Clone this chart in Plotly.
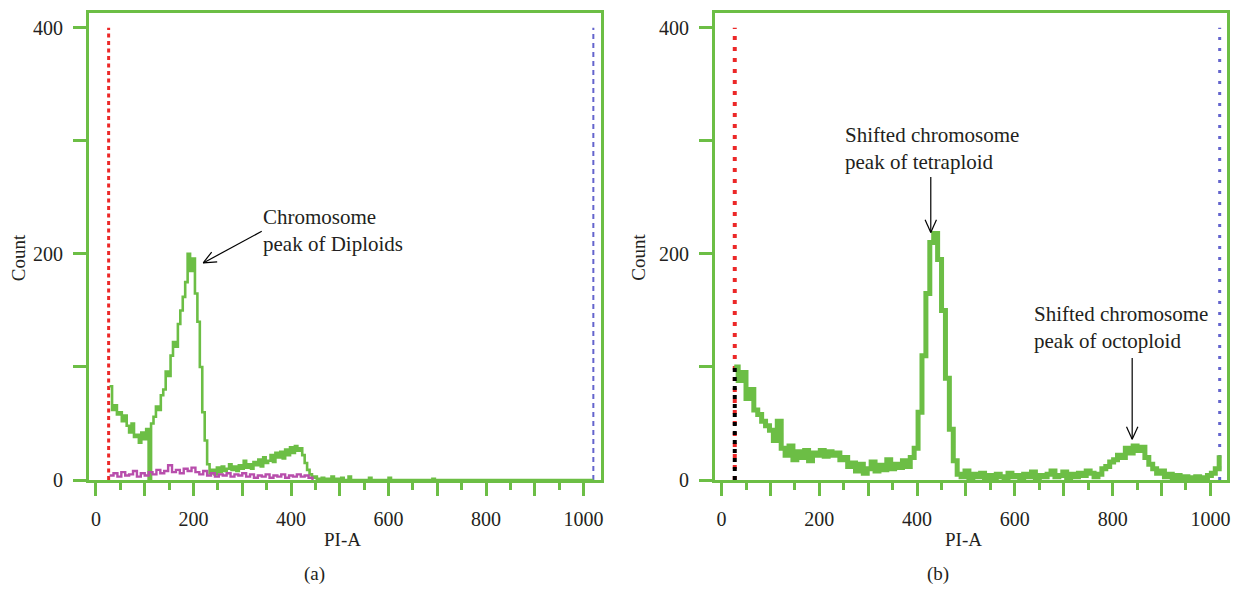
import plotly.graph_objects as go
import math

W, H = 1237, 599

# ---------------- data ----------------
# Panel (a): diploid histogram (green), bins every 5 channels starting at 28
a_green_start, a_green_step = 28, 5
a_green_counts = [83, 62, 66, 58, 60, 52, 57, 48, 42, 50,
                  38, 40, 33, 42, 36, 45, 0, 50, 56, 65,
                  62, 75, 80, 96, 92, 110, 122, 118, 138, 150,
                  162, 175, 200, 185, 196, 165, 140, 100, 60, 35,
                  14, 6, 9, 5, 11, 7, 12, 8, 10, 14,
                  9, 12, 8, 13, 10, 17, 11, 14, 10, 16,
                  13, 18, 12, 20, 15, 17, 22, 16, 24, 20,
                  25, 19, 27, 22, 29, 24, 30, 26, 28, 22,
                  15, 9, 5, 2, 3, 1, 0, 2, 0, 1,
                  0, 3, 0, 1, 0, 2, 0, 0, 3, 0]
a_green_tail_x = [560, 565, 600, 605, 690, 695, 1020]
a_green_tail_y = [2, 0, 2, 0, 1, 0, 0]

# Panel (a): second population (magenta), bins every 8 channels
a_mag_start, a_mag_step = 28, 8
a_mag_counts = [4, 6, 3, 7, 4, 5, 8, 3, 6, 4,
                7, 5, 9, 6, 8, 13, 7, 9, 6, 10,
                8, 11, 7, 5, 8, 4, 6, 3, 5, 4,
                6, 3, 5, 4, 6, 3, 5, 2, 4, 3,
                5, 2, 4, 3, 5, 2, 4, 3, 5, 3,
                4, 2, 0]

# Panel (b): tetraploid histogram (green), bins every 8 channels starting at 26
b_green_start, b_green_step = 26, 8
b_green_counts = [100, 88, 95, 72, 80, 62, 58, 52, 48, 44,
                  35, 52, 28, 22, 30, 18, 25, 20, 26, 17,
                  24, 22, 26, 21, 25, 22, 24, 18, 20, 12,
                  15, 8, 14, 6, 10, 16, 8, 13, 9, 18,
                  10, 14, 11, 17, 12, 20, 28, 60, 110, 165,
                  210, 218, 195, 150, 90, 45, 17, 5, 3, 8,
                  2, 5, 3, 6, 2, 4, 1, 5, 3, 2,
                  6, 3, 4, 2, 5, 3, 7, 2, 4, 3,
                  5, 8, 3, 4, 7, 2, 5, 3, 6, 4,
                  8, 6, 3, 5, 10, 12, 16, 18, 22, 20,
                  28, 24, 30, 26, 29, 20, 14, 10, 6, 8,
                  3, 5, 2, 4, 1, 3, 2, 1, 3, 2,
                  1, 4, 6, 10, 22]

# gate markers
a_gate_low, a_gate_high = 26, 1020
b_gate_low, b_gate_high = 27, 1019
gate_top = 400
b_black_top = 100

# axis ticks
x_major = list(range(0, 1001, 100))
x_labels = [str(v) if v % 200 == 0 else "" for v in x_major]
x_minor = list(range(50, 1001, 100))
y_major = [0, 100, 200, 300, 400]
y_labels = ["0", "", "200", "", "400"]

# ---------------- styling ----------------
GREEN = "rgb(108,190,69)"
MAG = "rgb(184,78,172)"
RED = "rgb(236,40,40)"
BLUE = "rgb(100,100,205)"
TXT = "#231f20"
FONT = "Liberation Serif"

left_box = (89.3, 602.7)
right_box = (716.7, 1230.0)
top_px, bot_px = 13.0, 489.0
a_range = [-14.1, 1036.2]
b_range = [-13.5, 1034.0]
y_range = [0, 413.3]

def px2paper_x(px):
    return px / W

def px2paper_y(py):
    return 1 - py / H

fig = go.Figure()

a_x = [a_green_start + i * a_green_step for i in range(len(a_green_counts))] + a_green_tail_x
a_y = a_green_counts + a_green_tail_y
m_x = [a_mag_start + i * a_mag_step for i in range(len(a_mag_counts))]
b_x = [b_green_start + i * b_green_step for i in range(len(b_green_counts))]

# panel (a)
fig.add_trace(go.Scatter(x=[a_gate_low, a_gate_low], y=[0, gate_top], mode="lines",
                         line=dict(color=RED, width=3, dash="4px,3.5px"),
                         xaxis="x", yaxis="y", hoverinfo="skip"))
fig.add_trace(go.Scatter(x=[a_gate_high, a_gate_high], y=[0, gate_top], mode="lines",
                         line=dict(color=BLUE, width=2, dash="5px,4px"),
                         xaxis="x", yaxis="y", hoverinfo="skip"))
fig.add_trace(go.Scatter(x=a_x, y=a_y, mode="lines", line=dict(color=GREEN, width=2.6, shape="hv"),
                         xaxis="x", yaxis="y"))
fig.add_trace(go.Scatter(x=m_x, y=a_mag_counts, mode="lines", line=dict(color=MAG, width=2.4, shape="hv"),
                         xaxis="x", yaxis="y"))

# panel (b)
fig.add_trace(go.Scatter(x=[b_gate_low, b_gate_low], y=[0, gate_top], mode="lines",
                         line=dict(color=RED, width=4, dash="4px,7px"),
                         xaxis="x2", yaxis="y2", hoverinfo="skip"))
fig.add_trace(go.Scatter(x=[b_gate_high, b_gate_high], y=[0, gate_top], mode="lines",
                         line=dict(color=BLUE, width=3, dash="3px,8px"),
                         xaxis="x2", yaxis="y2", hoverinfo="skip"))
fig.add_trace(go.Scatter(x=b_x, y=b_green_counts, mode="lines",
                         line=dict(color=GREEN, width=5, shape="hv"),
                         xaxis="x2", yaxis="y2"))
fig.add_trace(go.Scatter(x=[b_gate_low, b_gate_low], y=[0, b_black_top], mode="lines",
                         line=dict(color="black", width=4, dash="4px,5px"),
                         xaxis="x2", yaxis="y2", hoverinfo="skip"))

def xaxis_cfg(box, rng):
    return dict(domain=[px2paper_x(box[0]), px2paper_x(box[1])], range=rng,
                showline=True, linecolor=GREEN, linewidth=3, mirror=True,
                ticks="outside", ticklen=13, tickwidth=3, tickcolor=GREEN,
                tickvals=x_major, ticktext=x_labels, ticklabelstandoff=6,
                minor=dict(tickvals=x_minor, ticks="outside", ticklen=7, tickwidth=3, tickcolor=GREEN),
                showgrid=False, zeroline=False,
                tickfont=dict(family=FONT, size=20, color=TXT))

def yaxis_cfg(anchor):
    return dict(domain=[px2paper_y(bot_px), px2paper_y(top_px)], range=y_range, anchor=anchor,
                showline=True, linecolor=GREEN, linewidth=3, mirror=True,
                ticks="outside", ticklen=13, tickwidth=3, tickcolor=GREEN,
                tickvals=y_major, ticktext=y_labels, ticklabelstandoff=6,
                showgrid=False, zeroline=False,
                tickfont=dict(family=FONT, size=20, color=TXT))

fig.update_layout(
    width=W, height=H, autosize=False, margin=dict(l=0, r=0, t=0, b=0, pad=0),
    paper_bgcolor="white", plot_bgcolor="white", showlegend=False,
    xaxis=dict(xaxis_cfg(left_box, a_range), anchor="y"),
    yaxis=yaxis_cfg("x"),
    xaxis2=dict(xaxis_cfg(right_box, b_range), anchor="y2"),
    yaxis2=yaxis_cfg("x2"),
)

annotations = []
def txt(text, px, py, size=19, xanchor="center", yanchor="middle", angle=0, align="center"):
    annotations.append(dict(text=text, x=px2paper_x(px), y=px2paper_y(py), xref="paper", yref="paper",
                            showarrow=False, xanchor=xanchor, yanchor=yanchor, textangle=angle,
                            align=align, font=dict(family=FONT, size=size, color=TXT)))

txt("Count", 18, 262, angle=-90)
txt("Count", 640, 262, angle=-90)
txt("PI-A", 343, 550)
txt("PI-A", 966, 550)
txt("(a)", 315, 585)
txt("(b)", 940, 585)
txt("Chromosome<br>peak of Diploids", 262, 235, size=21, xanchor="left", align="left")
txt("Shifted chromosome<br>peak of tetraploid", 845, 151, size=21, xanchor="left", align="left")
txt("Shifted chromosome<br>peak of octoploid", 1035, 334, size=21, xanchor="left", align="left")
fig.update_layout(annotations=annotations)

# open-chevron arrows (data coordinates, converted with pixel scale)
a_sx = (left_box[1] - left_box[0]) / (a_range[1] - a_range[0])
b_sx = (right_box[1] - right_box[0]) / (b_range[1] - b_range[0])
sy = (bot_px - top_px) / (y_range[1] - y_range[0])

def arrow(xr, yr, sx, tail, head, hl=14, ang=24):
    shapes = []
    shapes.append(dict(type="line", xref=xr, yref=yr, x0=tail[0], y0=tail[1], x1=head[0], y1=head[1],
                       line=dict(color="black", width=1.2)))
    dxp = (tail[0] - head[0]) * sx
    dyp = (tail[1] - head[1]) * sy
    base = math.atan2(dyp, dxp)
    for s in (-1, 1):
        a = base + s * math.radians(ang)
        ex = head[0] + hl * math.cos(a) / sx
        ey = head[1] + hl * math.sin(a) / sy
        shapes.append(dict(type="line", xref=xr, yref=yr, x0=head[0], y0=head[1], x1=ex, y1=ey,
                           line=dict(color="black", width=1.2)))
    return shapes

shapes = []
shapes += arrow("x", "y", a_sx, (340, 220), (220, 192))
shapes += arrow("x2", "y2", b_sx, (428, 268), (428, 219))
shapes += arrow("x2", "y2", b_sx, (840, 108), (840, 36))
fig.update_layout(shapes=shapes)

fig.write_html("out.html", config={"responsive": False})
